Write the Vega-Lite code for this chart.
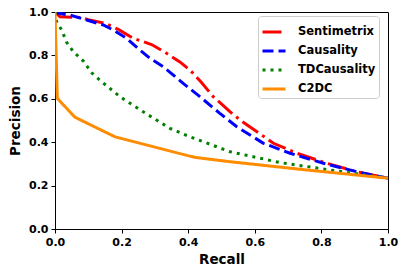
{
  "$schema": "https://vega.github.io/schema/vega-lite/v6.json",
  "width": 333,
  "height": 217,
  "autosize": {"type": "none"},
  "padding": {"left": 55, "top": 12, "right": 18, "bottom": 45},
  "config": {
    "font": "DejaVu Sans",
    "view": {"stroke": "#000000", "strokeWidth": 1},
    "axis": {
      "grid": false,
      "domainColor": "#000000",
      "tickColor": "#000000",
      "tickSize": 4,
      "labelFont": "DejaVu Sans",
      "labelFontWeight": "bold",
      "labelFontSize": 11,
      "labelColor": "#000000",
      "titleFont": "DejaVu Sans",
      "titleFontWeight": "bold",
      "titleFontSize": 13.5,
      "titleColor": "#000000"
    }
  },
  "data": {
    "values": [
      {"series": "Sentimetrix", "r": 0.0, "p": 1.0},
      {"series": "Sentimetrix", "r": 0.015, "p": 0.978},
      {"series": "Sentimetrix", "r": 0.075, "p": 0.975},
      {"series": "Sentimetrix", "r": 0.1, "p": 0.965},
      {"series": "Sentimetrix", "r": 0.15, "p": 0.948},
      {"series": "Sentimetrix", "r": 0.19, "p": 0.92},
      {"series": "Sentimetrix", "r": 0.235, "p": 0.879},
      {"series": "Sentimetrix", "r": 0.29, "p": 0.85},
      {"series": "Sentimetrix", "r": 0.335, "p": 0.81},
      {"series": "Sentimetrix", "r": 0.375, "p": 0.77},
      {"series": "Sentimetrix", "r": 0.405, "p": 0.733},
      {"series": "Sentimetrix", "r": 0.44, "p": 0.675},
      {"series": "Sentimetrix", "r": 0.475, "p": 0.61},
      {"series": "Sentimetrix", "r": 0.526, "p": 0.54},
      {"series": "Sentimetrix", "r": 0.556, "p": 0.502},
      {"series": "Sentimetrix", "r": 0.6, "p": 0.455},
      {"series": "Sentimetrix", "r": 0.656, "p": 0.395},
      {"series": "Sentimetrix", "r": 0.726, "p": 0.349},
      {"series": "Sentimetrix", "r": 0.816, "p": 0.303},
      {"series": "Sentimetrix", "r": 0.906, "p": 0.264},
      {"series": "Sentimetrix", "r": 1.0, "p": 0.234},
      {"series": "Causality", "r": 0.0, "p": 1.0},
      {"series": "Causality", "r": 0.01, "p": 0.994},
      {"series": "Causality", "r": 0.045, "p": 0.986},
      {"series": "Causality", "r": 0.095, "p": 0.963},
      {"series": "Causality", "r": 0.145, "p": 0.94},
      {"series": "Causality", "r": 0.175, "p": 0.917},
      {"series": "Causality", "r": 0.215, "p": 0.879},
      {"series": "Causality", "r": 0.255, "p": 0.825},
      {"series": "Causality", "r": 0.285, "p": 0.787},
      {"series": "Causality", "r": 0.325, "p": 0.748},
      {"series": "Causality", "r": 0.385, "p": 0.671},
      {"series": "Causality", "r": 0.435, "p": 0.61},
      {"series": "Causality", "r": 0.495, "p": 0.533},
      {"series": "Causality", "r": 0.546, "p": 0.471},
      {"series": "Causality", "r": 0.626, "p": 0.395},
      {"series": "Causality", "r": 0.706, "p": 0.349},
      {"series": "Causality", "r": 0.806, "p": 0.303},
      {"series": "Causality", "r": 0.906, "p": 0.264},
      {"series": "Causality", "r": 1.0, "p": 0.234},
      {"series": "TDCausality", "r": 0.0, "p": 1.0},
      {"series": "TDCausality", "r": 0.005, "p": 0.955},
      {"series": "TDCausality", "r": 0.02, "p": 0.917},
      {"series": "TDCausality", "r": 0.035, "p": 0.86},
      {"series": "TDCausality", "r": 0.055, "p": 0.817},
      {"series": "TDCausality", "r": 0.085, "p": 0.774},
      {"series": "TDCausality", "r": 0.11, "p": 0.72},
      {"series": "TDCausality", "r": 0.14, "p": 0.679},
      {"series": "TDCausality", "r": 0.195, "p": 0.61},
      {"series": "TDCausality", "r": 0.265, "p": 0.54},
      {"series": "TDCausality", "r": 0.345, "p": 0.464},
      {"series": "TDCausality", "r": 0.405, "p": 0.425},
      {"series": "TDCausality", "r": 0.526, "p": 0.356},
      {"series": "TDCausality", "r": 0.676, "p": 0.306},
      {"series": "TDCausality", "r": 0.826, "p": 0.272},
      {"series": "TDCausality", "r": 1.0, "p": 0.234},
      {"series": "C2DC", "r": 0.0, "p": 1.0},
      {"series": "C2DC", "r": 0.007, "p": 0.602},
      {"series": "C2DC", "r": 0.06, "p": 0.515},
      {"series": "C2DC", "r": 0.18, "p": 0.425},
      {"series": "C2DC", "r": 0.42, "p": 0.33},
      {"series": "C2DC", "r": 0.526, "p": 0.31},
      {"series": "C2DC", "r": 0.756, "p": 0.272},
      {"series": "C2DC", "r": 1.0, "p": 0.234}
    ]
  },
  "mark": {"type": "line", "strokeWidth": 3, "clip": true},
  "encoding": {
    "x": {
      "field": "r", "type": "quantitative", "title": "Recall",
      "scale": {"domain": [0, 1], "nice": false},
      "axis": {"values": [0, 0.2, 0.4, 0.6, 0.8, 1.0], "format": ".1f", "labelPadding": 3, "titlePadding": 5, "labelFlush": false}
    },
    "y": {
      "field": "p", "type": "quantitative", "title": "Precision",
      "scale": {"domain": [0, 1], "nice": false},
      "axis": {"values": [0, 0.2, 0.4, 0.6, 0.8, 1.0], "format": ".1f", "labelPadding": 3, "titlePadding": 6, "labelFlush": false}
    },
    "color": {
      "field": "series", "type": "nominal", "title": null,
      "scale": {
        "domain": ["Sentimetrix", "Causality", "TDCausality", "C2DC"],
        "range": ["#ff0000", "#0000ff", "#008000", "#ff8c00"]
      },
      "legend": {
        "orient": "none",
        "legendX": 203,
        "legendY": 4,
        "symbolType": "stroke",
        "symbolSize": 529,
        "symbolStrokeWidth": 3,
        "labelFont": "DejaVu Sans",
        "labelFontWeight": "bold",
        "labelFontSize": 11.5,
        "labelColor": "#000000",
        "labelOffset": 11,
        "rowPadding": -4.3,
        "padding": 3,
        "fillColor": "#ffffff",
        "strokeColor": "#cccccc",
        "cornerRadius": 3
      }
    },
    "strokeDash": {
      "field": "series", "type": "nominal", "title": null,
      "scale": {
        "domain": ["Sentimetrix", "Causality", "TDCausality", "C2DC"],
        "range": [[19, 5, 3, 5], [11, 5], [3, 5], [1, 0]]
      }
    }
  }
}
